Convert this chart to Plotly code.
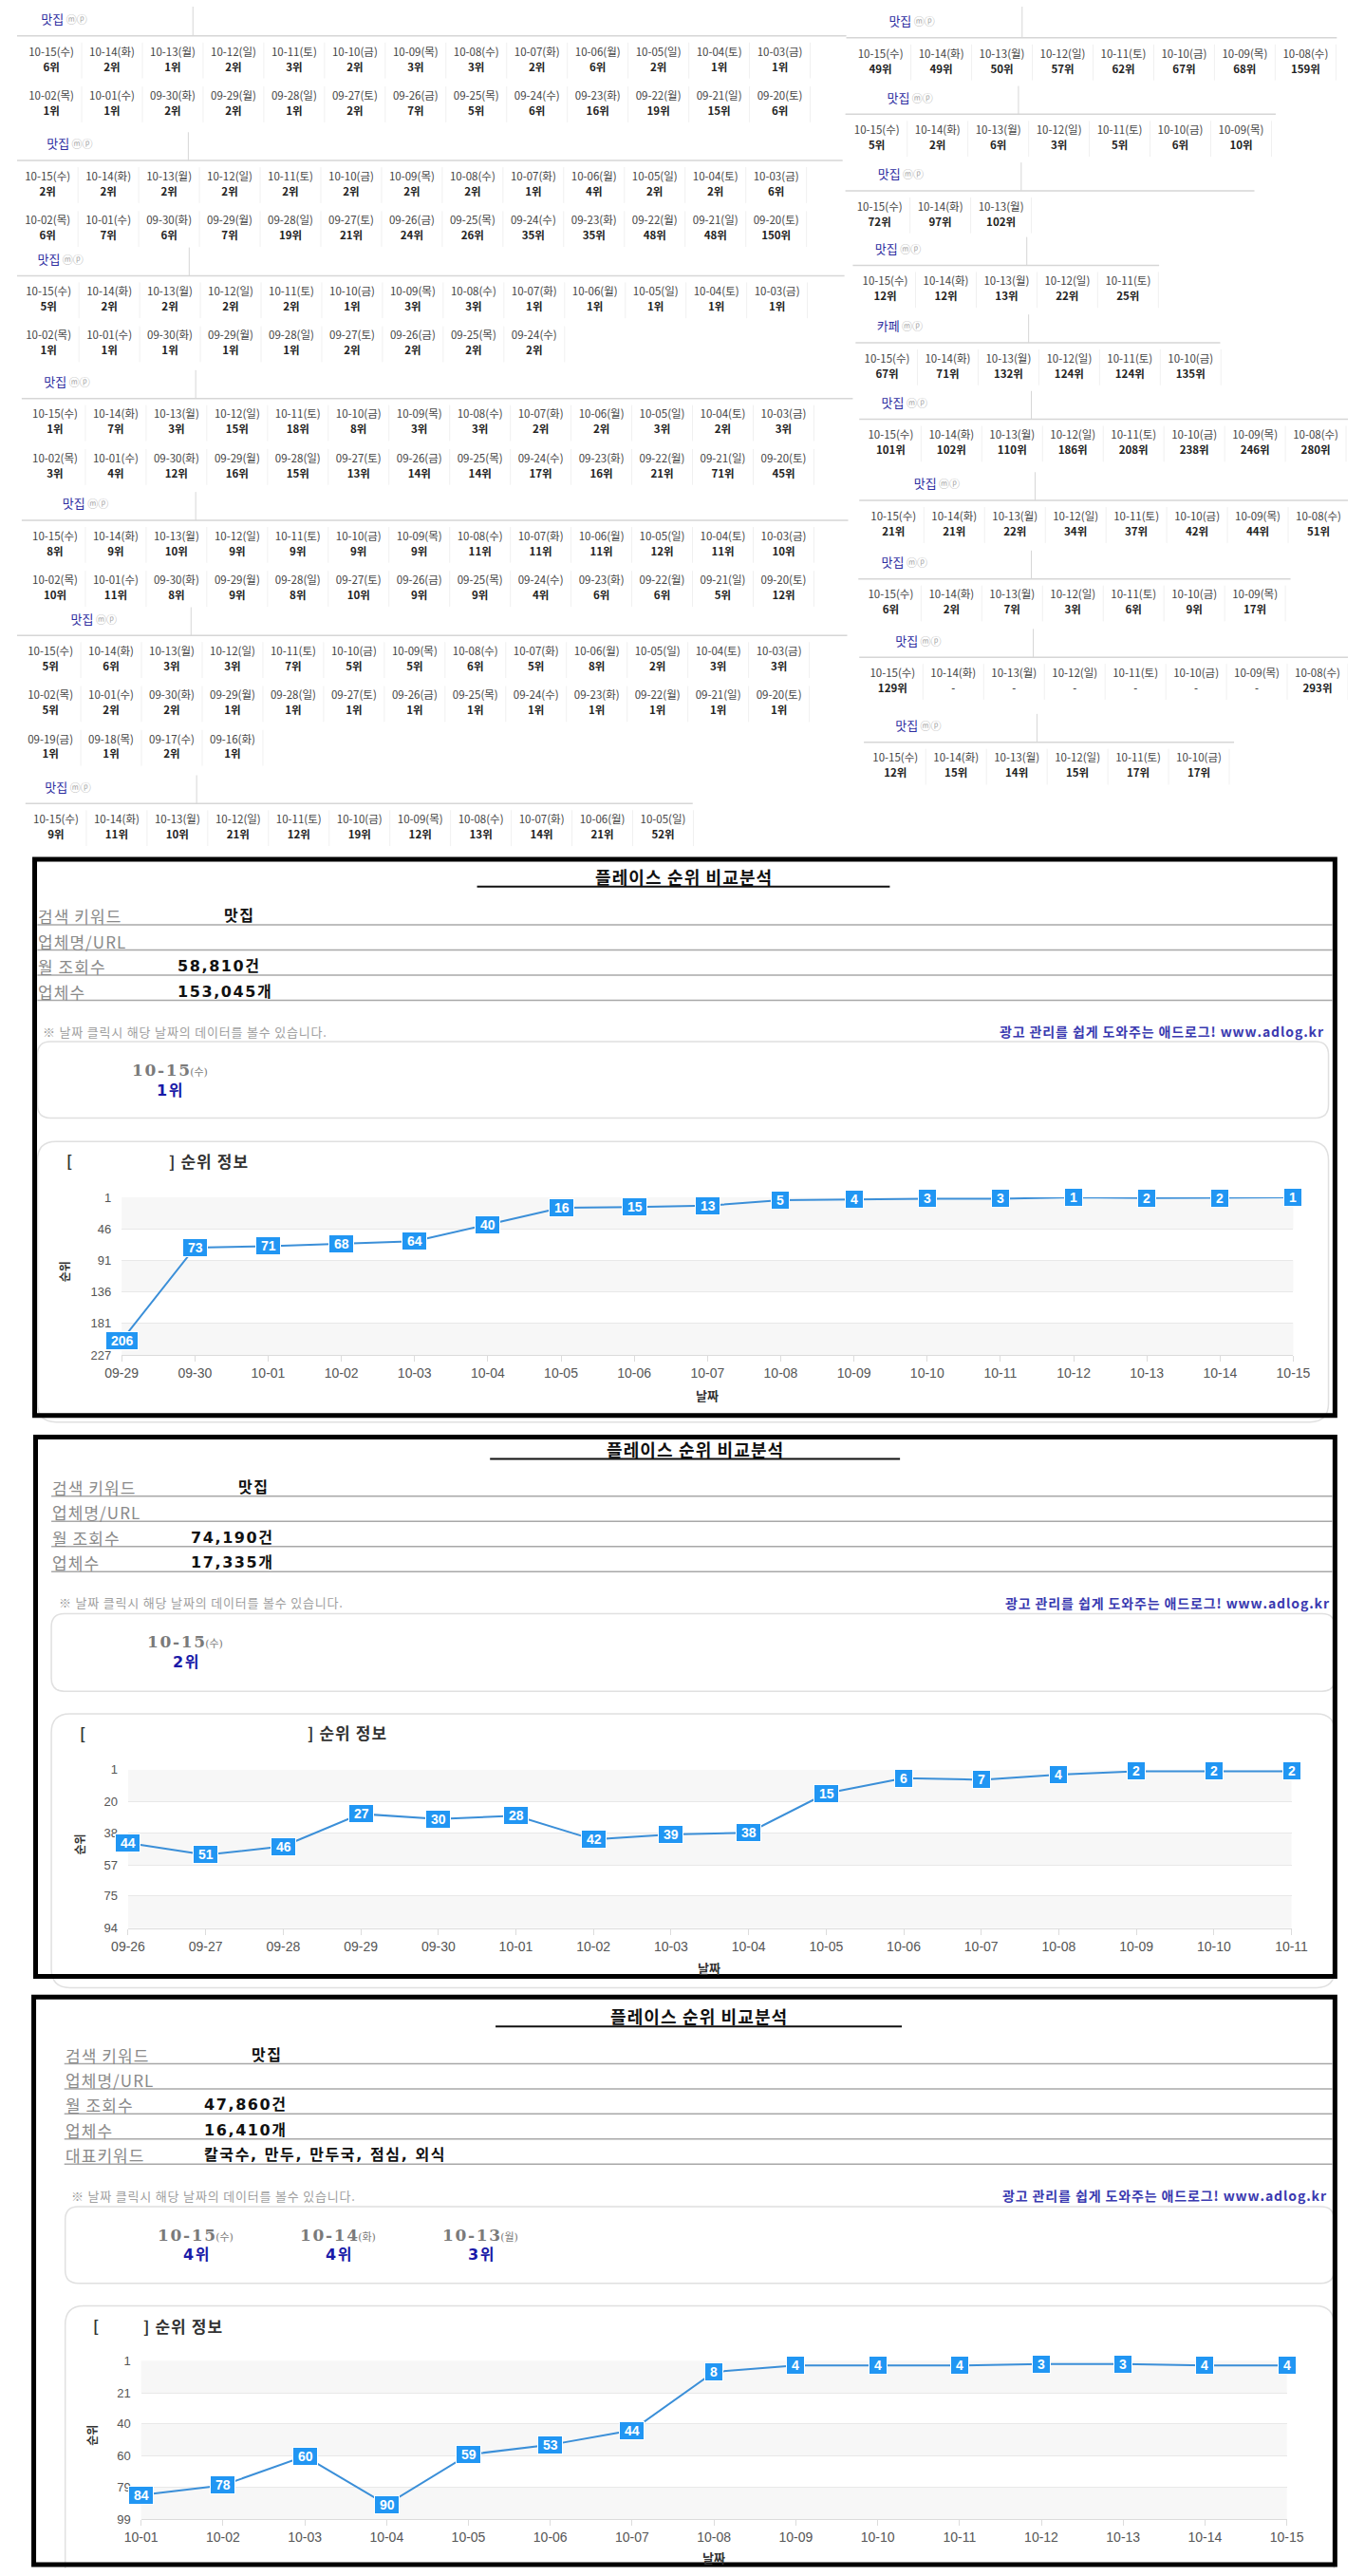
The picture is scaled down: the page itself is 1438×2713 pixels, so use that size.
import plotly.graph_objects as go

W, H = 1438, 2713

# ---------------- data ----------------
DAY_LABELS = ["10-15(수)", "10-14(화)", "10-13(월)", "10-12(일)", "10-11(토)", "10-10(금)",
              "10-09(목)", "10-08(수)", "10-07(화)", "10-06(월)", "10-05(일)", "10-04(토)",
              "10-03(금)", "10-02(목)", "10-01(수)", "09-30(화)", "09-29(월)", "09-28(일)",
              "09-27(토)", "09-26(금)", "09-25(목)", "09-24(수)", "09-23(화)", "09-22(월)",
              "09-21(일)", "09-20(토)", "09-19(금)", "09-18(목)", "09-17(수)", "09-16(화)"]

# left column keyword blocks (ranks from 10-15 backwards)
L1_RANKS = [6, 2, 1, 2, 3, 2, 3, 3, 2, 6, 2, 1, 1, 1, 1, 2, 2, 1, 2, 7, 5, 6, 16, 19, 15, 6]
L2_RANKS = [2, 2, 2, 2, 2, 2, 2, 2, 1, 4, 2, 2, 6, 6, 7, 6, 7, 19, 21, 24, 26, 35, 35, 48, 48, 150]
L3_RANKS = [5, 2, 2, 2, 2, 1, 3, 3, 1, 1, 1, 1, 1, 1, 1, 1, 1, 1, 2, 2, 2, 2]
L4_RANKS = [1, 7, 3, 15, 18, 8, 3, 3, 2, 2, 3, 2, 3, 3, 4, 12, 16, 15, 13, 14, 14, 17, 16, 21, 71, 45]
L5_RANKS = [8, 9, 10, 9, 9, 9, 9, 11, 11, 11, 12, 11, 10, 10, 11, 8, 9, 8, 10, 9, 9, 4, 6, 6, 5, 12]
L6_RANKS = [5, 6, 3, 3, 7, 5, 5, 6, 5, 8, 2, 3, 3, 5, 2, 2, 1, 1, 1, 1, 1, 1, 1, 1, 1, 1, 1, 1, 2, 1]
L7_RANKS = [9, 11, 10, 21, 12, 19, 12, 13, 14, 21, 52]
LEFT_KEYWORDS = ["맛집", "맛집", "맛집", "맛집", "맛집", "맛집", "맛집"]

# right column keyword blocks
R1_RANKS = [49, 49, 50, 57, 62, 67, 68, 159]
R2_RANKS = [5, 2, 6, 3, 5, 6, 10]
R3_RANKS = [72, 97, 102]
R4_RANKS = [12, 12, 13, 22, 25]
R5_RANKS = [67, 71, 132, 124, 124, 135]
R6_RANKS = [101, 102, 110, 186, 208, 238, 246, 280]
R7_RANKS = [21, 21, 22, 34, 37, 42, 44, 51]
R8_RANKS = [6, 2, 7, 3, 6, 9, 17]
R9_RANKS = [129, None, None, None, None, None, None, 293]
R10_RANKS = [12, 15, 14, 15, 17, 17]
RIGHT_KEYWORDS = ["맛집", "맛집", "맛집", "맛집", "카페", "맛집", "맛집", "맛집", "맛집", "맛집"]

# comparison panels
PANEL_TITLE = "플레이스 순위 비교분석"
INFO_LABELS = ["검색 키워드", "업체명/URL", "월 조회수", "업체수", "대표키워드"]
P1_INFO = ["맛집", "", "58,810건", "153,045개"]
P2_INFO = ["맛집", "", "74,190건", "17,335개"]
P3_INFO = ["맛집", "", "47,860건", "16,410개", "칼국수, 만두, 만두국, 점심, 외식"]
P1_RECENT_DAYS = ["10-15", "수"]
P1_RECENT = [1]
P2_RECENT_DAYS = ["10-15", "수"]
P2_RECENT = [2]
P3_RECENT_DAYS = ["10-15", "수", "10-14", "화", "10-13", "월"]
P3_RECENT = [4, 4, 3]

C1_DATES = ["09-29", "09-30", "10-01", "10-02", "10-03", "10-04", "10-05", "10-06", "10-07",
            "10-08", "10-09", "10-10", "10-11", "10-12", "10-13", "10-14", "10-15"]
C1_RANKS = [206, 73, 71, 68, 64, 40, 16, 15, 13, 5, 4, 3, 3, 1, 2, 2, 1]
C1_TICKS = [1, 46, 91, 136, 181, 227]

C2_DATES = ["09-26", "09-27", "09-28", "09-29", "09-30", "10-01", "10-02", "10-03", "10-04",
            "10-05", "10-06", "10-07", "10-08", "10-09", "10-10", "10-11"]
C2_RANKS = [44, 51, 46, 27, 30, 28, 42, 39, 38, 15, 6, 7, 4, 2, 2, 2]
C2_TICKS = [1, 20, 38, 57, 75, 94]

C3_DATES = ["10-01", "10-02", "10-03", "10-04", "10-05", "10-06", "10-07", "10-08", "10-09",
            "10-10", "10-11", "10-12", "10-13", "10-14", "10-15"]
C3_RANKS = [84, 78, 60, 90, 59, 53, 44, 8, 4, 4, 4, 3, 3, 4, 4]
C3_TICKS = [1, 21, 40, 60, 79, 99]

# ---------------- styles / geometry ----------------
KR = "Noto Sans CJK KR"
WIDE = "DejaVu Sans, Noto Sans CJK KR"
SANS = "Liberation Sans, Arial"
BLUE = "#2196f3"
LINE_BLUE = "#3b8fd8"
KW_BLUE = "#2d2d9f"
CELL_W = 65.6
GAP = "\u200a"

# line_y, keyword_left, sep_x, first_cell_x, line_x0, line_x1
LEFT_GEOM = [(31, 26, 190, 37, 0, 896), (163, 32, 185, 33, 0, 892), (285, 22, 186, 34, 0, 894),
             (415, 29, 193, 41, 5, 903), (544, 49, 193, 41, 5, 898), (666, 58, 188, 36, 0, 897),
             (844, 30, 194, 42, 9, 730)]
RIGHT_GEOM = [(33, 942, 1086, 933, 896, 1426), (114, 940, 1082, 929, 895, 1360),
              (195, 930, 1085, 932, 895, 1337), (274, 927, 1091, 938, 903, 1234),
              (356, 929, 1093, 940, 906, 1300), (437, 934, 1096, 944, 910, 1438),
              (523, 969, 1100, 947, 910, 1438), (606, 934, 1096, 944, 909, 1376),
              (689, 949, 1098, 946, 910, 1438), (779, 949, 1102, 949, 915, 1315)]

PANELS = [
    dict(frame=(19, 903, 1424, 1492), title_y=921, ul=(497, 943, 932), lx=22, row_y=963,
         note=(27, 1413, 1085), box=(22, 1096, 1417, 1177), day_x=165, day_y=1126, rank_y=1148,
         cbox=(22, 1202, 1417, 1499), bracket=(52, 163, 1222), plot=(113, 1379, 1261, 1428),
         xtitle=(746, 1471), ytitle=(51, 1340)),
    dict(frame=(20, 1515, 1424, 2086), title_y=1527, ul=(511, 954, 1538), lx=37, row_y=1568,
         note=(44, 1420, 1690), box=(37, 1702, 1424, 1784), day_x=182, day_y=1732, rank_y=1753,
         cbox=(37, 1808, 1424, 2098), bracket=(67, 313, 1828), plot=(120, 1377, 1867, 2035),
         xtitle=(748, 2077), ytitle=(67, 1946)),
    dict(frame=(18, 2108, 1424, 2709), title_y=2128, ul=(517, 956, 2139), lx=51, row_y=2169,
         note=(57, 1416, 2318), box=(52, 2330, 1423, 2411), day_x=193, day_y=2360, rank_y=2381,
         cbox=(52, 2435, 1423, 2760), bracket=(81, 135, 2456), plot=(134, 1372, 2493, 2661),
         xtitle=(753, 2701), ytitle=(81, 2572)),
]

fig = go.Figure()
shapes = []
annotations = []


def spaced(s):
    # the source page uses wide letter spacing
    return GAP.join(s)


def page_line(x0, y0, x1, y1, color, width):
    shapes.append(dict(type="line", xref="x4", yref="y4", x0=x0, y0=y0, x1=x1, y1=y1,
                       line=dict(color=color, width=width)))


def rounded(x0, y0, x1, y1, r=10):
    return (f"M{x0 + r},{y0} L{x1 - r},{y0} Q{x1},{y0} {x1},{y0 + r} L{x1},{y1 - r} "
            f"Q{x1},{y1} {x1 - r},{y1} L{x0 + r},{y1} Q{x0},{y1} {x0},{y1 - r} "
            f"L{x0},{y0 + r} Q{x0},{y0} {x0 + r},{y0} Z")


def page_text(x, y, text, size, color, anchor="left", family=KR, bold=False, angle=0):
    annotations.append(dict(xref="x4", yref="y4", x=x, y=y, text=f"<b>{text}</b>" if bold else text,
                            showarrow=False, xanchor=anchor, yanchor="middle", textangle=angle,
                            borderpad=0, font=dict(family=family, size=size, color=color)))


# ---------------- rank grid ----------------
head_x, head_y, head_t = [], [], []
day_x, day_y, day_t = [], [], []
rk_x, rk_y, rk_t = [], [], []
sep_x, sep_y = [], []


def add_block(keyword, ranks, geom, per_row, first_top):
    line_y, kw_left, sx, cx0, lx0, lx1 = geom
    head_x.append(kw_left)
    head_y.append(line_y - 16)
    head_t.append(f"<span style='color:{KW_BLUE}'>{keyword}</span>"
                  f"<span style='color:#a8a8a8;font-size:11px'> ⓜⓟ</span>")
    page_line(sx, 0 if first_top else line_y - 30, sx, line_y, "#d6d6d6", 1)
    page_line(lx0, line_y, lx1, line_y, "#d6d6d6", 1.5)
    for i, r in enumerate(ranks):
        row, col = divmod(i, per_row)
        x = cx0 + col * CELL_W
        dy = line_y + 18 + row * 46.5
        day_x.append(x)
        day_y.append(dy)
        day_t.append(DAY_LABELS[i])
        rk_x.append(x)
        rk_y.append(dy + 16)
        rk_t.append("-" if r is None else f"<b>{r}위</b>")
        sep_x.extend([x + CELL_W / 2, x + CELL_W / 2, None])
        sep_y.extend([dy - 11, dy + 27, None])


left_ranks = [L1_RANKS, L2_RANKS, L3_RANKS, L4_RANKS, L5_RANKS, L6_RANKS, L7_RANKS]
for k, (kw, rk, g) in enumerate(zip(LEFT_KEYWORDS, left_ranks, LEFT_GEOM)):
    add_block(kw, rk, g, 13, k == 0)
right_ranks = [R1_RANKS, R2_RANKS, R3_RANKS, R4_RANKS, R5_RANKS, R6_RANKS, R7_RANKS,
               R8_RANKS, R9_RANKS, R10_RANKS]
for k, (kw, rk, g) in enumerate(zip(RIGHT_KEYWORDS, right_ranks, RIGHT_GEOM)):
    add_block(kw, rk, g, 20, k == 0)

fig.add_trace(go.Scatter(x=sep_x, y=sep_y, mode="lines", line=dict(color="#f0f0f0", width=1),
                         xaxis="x4", yaxis="y4", hoverinfo="skip", showlegend=False))
fig.add_trace(go.Scatter(x=head_x, y=head_y, text=head_t, mode="text", textposition="middle right",
                         textfont=dict(family=KR, size=13), xaxis="x4", yaxis="y4",
                         hoverinfo="skip", showlegend=False))
fig.add_trace(go.Scatter(x=day_x, y=day_y, text=day_t, mode="text", textposition="middle center",
                         textfont=dict(family=KR, size=11.5, color="#444444"), xaxis="x4", yaxis="y4",
                         hoverinfo="skip", showlegend=False))
fig.add_trace(go.Scatter(x=rk_x, y=rk_y, text=rk_t, mode="text", textposition="middle center",
                         textfont=dict(family=KR, size=11.5, color="#222222"), xaxis="x4", yaxis="y4",
                         hoverinfo="skip", showlegend=False))

# ---------------- comparison panels ----------------
panel_info = [P1_INFO, P2_INFO, P3_INFO]
panel_days = [P1_RECENT_DAYS, P2_RECENT_DAYS, P3_RECENT_DAYS]
panel_recent = [P1_RECENT, P2_RECENT, P3_RECENT]
charts = [(C1_DATES, C1_RANKS, C1_TICKS), (C2_DATES, C2_RANKS, C2_TICKS),
          (C3_DATES, C3_RANKS, C3_TICKS)]
layout_axes = {}

for n, p in enumerate(PANELS):
    fx0, fy0, fx1, fy1 = p["frame"]
    # title
    page_text((p["ul"][0] + p["ul"][1]) / 2, p["title_y"], spaced(PANEL_TITLE), 18, "#111111",
              anchor="center", bold=True)
    page_line(p["ul"][0], p["ul"][2], p["ul"][1], p["ul"][2], "#111111", 2)
    # info rows
    for r, val in enumerate(panel_info[n]):
        y = p["row_y"] + r * 26.6
        page_text(p["lx"], y, spaced(INFO_LABELS[r]), 17, "#8a8a8a")
        if val:
            vx = p["lx"] + (201 if r == 0 else 150)
            page_text(vx, y, spaced(val), 16, "#111111", family=WIDE, bold=True)
        page_line(p["lx"], y + 9.5, fx1 - 3, y + 9.5, "#a8a8a8", 1.5)
    # notes
    nx0, nx1, ny = p["note"]
    page_text(nx0, ny, spaced("※ 날짜 클릭시 해당 날짜의 데이터를 볼수 있습니다."), 13, "#a0a0a0")
    page_text(nx1, ny, spaced("광고 관리를 쉽게 도와주는 애드로그! www.adlog.kr"), 14, "#3a3ab0",
              anchor="right", bold=True)
    # recent days box
    bx0, by0, bx1, by1 = p["box"]
    shapes.append(dict(type="path", xref="x4", yref="y4", path=rounded(bx0, by0, bx1, by1, 14),
                       line=dict(color="#e0e0e0", width=1.5)))
    days = panel_days[n]
    for k, rv in enumerate(panel_recent[n]):
        cx = p["day_x"] + k * 154
        page_text(cx, p["day_y"],
                  f"<b>{spaced(days[2 * k])}</b><span style='font-size:11px'>({days[2 * k + 1]})</span>",
                  17, "#7a7a7a", anchor="center", family="DejaVu Serif, Noto Sans CJK KR")
        page_text(cx, p["rank_y"], spaced(f"{rv}위"), 16, "#1a1aa8", anchor="center", family=WIDE,
                  bold=True)
    # chart box
    cx0, cy0, cx1, cy1 = p["cbox"]
    shapes.append(dict(type="path", xref="x4", yref="y4", path=rounded(cx0, cy0, cx1, cy1, 20),
                       line=dict(color="#e0e0e0", width=1.5)))
    b0, b1, by = p["bracket"]
    page_text(b0, by, "[", 16, "#333333", bold=True)
    page_text(b1, by, spaced("] 순위 정보"), 17, "#333333", bold=True)
    page_text(p["xtitle"][0], p["xtitle"][1], "날짜", 13, "#333333", anchor="center", bold=True)
    page_text(p["ytitle"][0], p["ytitle"][1], "순위", 12, "#333333", anchor="center", bold=True,
              angle=-90)

    # chart
    dates, ranks, ticks = charts[n]
    i = n + 1
    xa, ya = ("x", "y") if i == 1 else (f"x{i}", f"y{i}")
    px0, px1, py0, py1 = p["plot"]
    fig.add_trace(go.Scatter(x=dates, y=ranks, mode="lines", line=dict(color=LINE_BLUE, width=2),
                             xaxis=xa, yaxis=ya, hoverinfo="skip", showlegend=False))
    for k in range(0, len(ticks) - 1, 2):
        shapes.append(dict(type="rect", xref=f"{xa} domain", yref=ya, x0=0, x1=1,
                           y0=ticks[k], y1=ticks[k + 1], fillcolor="#f7f7f7",
                           line=dict(width=0), layer="below"))
    for d, r in zip(dates, ranks):
        annotations.append(dict(xref=xa, yref=ya, x=d, y=r, text=f"<b>\u00a0{r}\u00a0</b>",
                                showarrow=False, bgcolor=BLUE, bordercolor="white", borderwidth=1,
                                borderpad=1, font=dict(family=SANS, size=14, color="white")))
    layout_axes[f"xaxis{i}"] = dict(domain=[px0 / W, px1 / W], anchor=ya, type="category",
                                    range=[0, len(dates) - 1], showgrid=False, zeroline=False,
                                    showline=True, linecolor="#dcdcdc", ticks="outside", ticklen=6,
                                    tickcolor="#dcdcdc", fixedrange=True,
                                    tickfont=dict(family=SANS, size=14, color="#555555"))
    layout_axes[f"yaxis{i}"] = dict(domain=[1 - py1 / H, 1 - py0 / H], anchor=xa,
                                    range=[ticks[-1], ticks[0]], tickvals=ticks,
                                    ticktext=[str(t) for t in ticks], showgrid=True,
                                    gridcolor="#e8e8e8", zeroline=False, ticks="",
                                    ticklabelstandoff=10, fixedrange=True,
                                    tickfont=dict(family=SANS, size=13, color="#555555"))
    # black frame
    shapes.append(dict(type="rect", xref="x4", yref="y4", x0=fx0, y0=fy0, x1=fx1, y1=fy1,
                       line=dict(color="black", width=5)))

layout_axes["xaxis4"] = dict(domain=[0, 1], range=[0, W], visible=False, fixedrange=True)
layout_axes["yaxis4"] = dict(domain=[0, 1], range=[H, 0], visible=False, fixedrange=True)

fig.update_layout(width=W, height=H, margin=dict(l=0, r=0, t=0, b=0, pad=0),
                  paper_bgcolor="white", plot_bgcolor="rgba(0,0,0,0)", showlegend=False,
                  font=dict(family=KR), shapes=shapes, annotations=annotations, **layout_axes)

fig.write_html("out.html", config={"displayModeBar": False},
               post_script="document.body.style.margin='0';document.body.style.overflow='hidden';")
